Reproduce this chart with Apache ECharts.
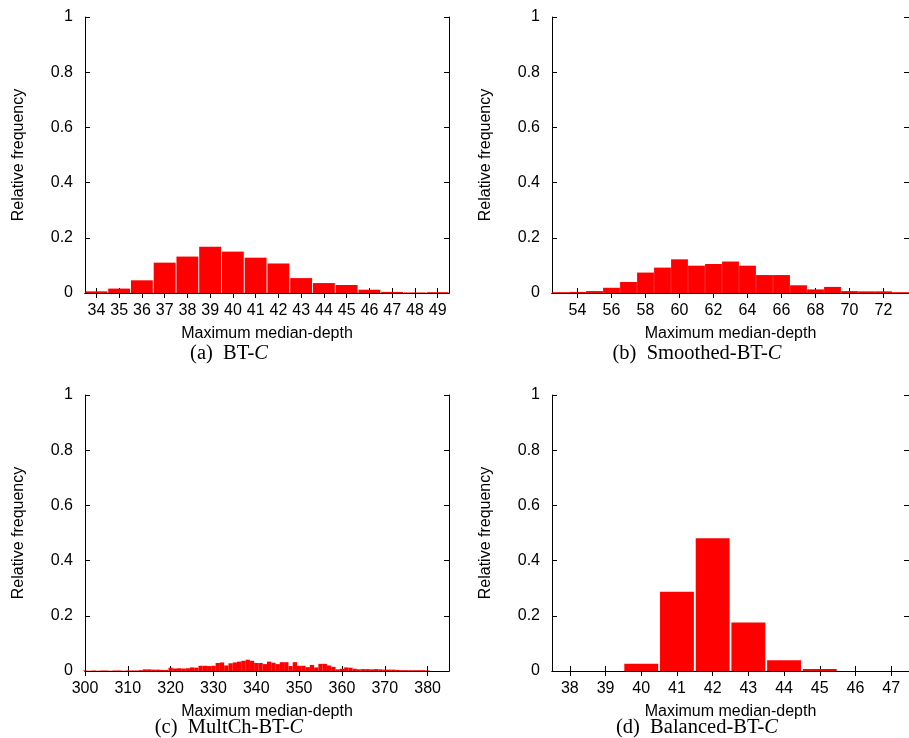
<!DOCTYPE html>
<html>
<head>
<meta charset="utf-8">
<script src="https://cdn.jsdelivr.net/npm/echarts@6/dist/echarts.min.js"></script>
<style>
  html, body { margin: 0; padding: 0; background: #fff; }
  #chart { width: 909px; height: 738px; }
</style>
</head>
<body>
<div id="chart"></div>
<script>
// (a) BT-C
const binsA = [34, 35, 36, 37, 38, 39, 40, 41, 42, 43, 44, 45, 46, 47, 48, 49];
const freqA = [0.006, 0.016, 0.046, 0.110, 0.132, 0.168, 0.150, 0.128, 0.107, 0.054, 0.036, 0.029, 0.012, 0.004, 0.002, 0.003];
const ticksA = [34, 35, 36, 37, 38, 39, 40, 41, 42, 43, 44, 45, 46, 47, 48, 49];

// (b) Smoothed-BT-C
const binsB = [53, 54, 55, 56, 57, 58, 59, 60, 61, 62, 63, 64, 65, 66, 67, 68, 69, 70, 71, 72, 73];
const freqB = [0.003, 0.004, 0.007, 0.019, 0.040, 0.074, 0.092, 0.122, 0.099, 0.105, 0.114, 0.099, 0.065, 0.065, 0.028, 0.013, 0.022, 0.007, 0.006, 0.006, 0.003];
const ticksB = [54, 56, 58, 60, 62, 64, 66, 68, 70, 72];

// (c) MultCh-BT-C
const binsC = [300, 301, 302, 303, 304, 305, 306, 307, 308, 309,
               310, 311, 312, 313, 314, 315, 316, 317, 318, 319,
               320, 321, 322, 323, 324, 325, 326, 327, 328, 329,
               330, 331, 332, 333, 334, 335, 336, 337, 338, 339,
               340, 341, 342, 343, 344, 345, 346, 347, 348, 349,
               350, 351, 352, 353, 354, 355, 356, 357, 358, 359,
               360, 361, 362, 363, 364, 365, 366, 367, 368, 369,
               370, 371, 372, 373, 374, 375, 376, 377, 378, 379, 380];
const freqC = [0.002, 0.001, 0.002, 0.001, 0.002, 0.002, 0.001, 0.002, 0.002, 0.001,
               0.002, 0.002, 0.002, 0.003, 0.006, 0.006, 0.005, 0.005, 0.004, 0.004,
               0.012, 0.009, 0.010, 0.009, 0.010, 0.013, 0.012, 0.019, 0.019, 0.018,
               0.019, 0.029, 0.031, 0.020, 0.028, 0.031, 0.034, 0.037, 0.041, 0.037,
               0.029, 0.029, 0.025, 0.034, 0.030, 0.025, 0.032, 0.032, 0.018, 0.032,
               0.019, 0.019, 0.014, 0.022, 0.013, 0.026, 0.026, 0.020, 0.015, 0.006,
               0.008, 0.013, 0.012, 0.008, 0.006, 0.007, 0.007, 0.006, 0.007, 0.006,
               0.005, 0.005, 0.005, 0.004, 0.003, 0.003, 0.003, 0.003, 0.003, 0.003, 0.002];
const ticksC = [300, 310, 320, 330, 340, 350, 360, 370, 380];

// (d) Balanced-BT-C
const binsD = [38, 39, 40, 41, 42, 43, 44, 45, 46, 47];
const freqD = [0, 0, 0.026, 0.287, 0.481, 0.176, 0.039, 0.007, 0, 0];
const ticksD = [38, 39, 40, 41, 42, 43, 44, 45, 46, 47];

const SANS = "'Liberation Sans', Arial, sans-serif";
const SERIF = "'Liberation Serif', 'Times New Roman', serif";
const W = 364, H = 276;

const panels = [
    { bins: binsA, freq: freqA, ticks: ticksA, min: 33.5, max: 49.5, fill: 0.96,
      left: 85, top: 17, capX: 229, capY: 354, tag: "(a)", name: "BT-" },
    { bins: binsB, freq: freqB, ticks: ticksB, min: 52.5, max: 73.5, fill: 0.97,
      left: 552, top: 17, capX: 697, capY: 354, tag: "(b)", name: "Smoothed-BT-" },
    { bins: binsC, freq: freqC, ticks: ticksC, min: 300, max: 385, fill: 1.0,
      left: 85, top: 395, capX: 229, capY: 728, tag: "(c)", name: "MultCh-BT-" },
    { bins: binsD, freq: freqD, ticks: ticksD, min: 37.5, max: 47.5, fill: 0.93,
      left: 552, top: 395, capX: 697, capY: 728, tag: "(d)", name: "Balanced-BT-" }
];

const black = { color: "#000", width: 1 };
const grid = [], xAxis = [], yAxis = [], series = [], graphic = [];

panels.forEach((p, i) => {
    grid.push({ left: p.left, top: p.top, width: W, height: H });

    const unit = W / (p.max - p.min);

    // bas (avec étiquettes) + haut (graduations miroir)
    xAxis.push({
        type: "value", gridIndex: i, min: p.min, max: p.max, position: "bottom",
        axisLine: { show: true, lineStyle: black },
        axisTick: { show: true, inside: true, length: 5, customValues: p.ticks, lineStyle: black },
        axisLabel: { customValues: p.ticks, margin: 10, color: "#000", fontSize: 16, fontFamily: SANS },
        splitLine: { show: false },
        name: "Maximum median-depth", nameLocation: "middle", nameGap: 33,
        nameTextStyle: { color: "#000", fontSize: 16, fontFamily: SANS }
    });
    xAxis.push({
        type: "value", gridIndex: i, min: p.min, max: p.max, position: "top",
        axisLine: { show: true, lineStyle: black },
        axisTick: { show: true, inside: true, length: 5, customValues: p.ticks, lineStyle: black },
        axisLabel: { show: false },
        splitLine: { show: false }
    });

    yAxis.push({
        type: "value", gridIndex: i, min: 0, max: 1, interval: 0.2, position: "left",
        axisLine: { show: true, lineStyle: black },
        axisTick: { show: true, inside: true, length: 5, lineStyle: black },
        axisLabel: { margin: 12, color: "#000", fontSize: 16, fontFamily: SANS },
        splitLine: { show: false },
        name: "Relative frequency", nameLocation: "middle", nameGap: 58,
        nameTextStyle: { color: "#000", fontSize: 16, fontFamily: SANS }
    });
    yAxis.push({
        type: "value", gridIndex: i, min: 0, max: 1, interval: 0.2, position: "right",
        axisLine: { show: true, lineStyle: black },
        axisTick: { show: true, inside: true, length: 5, lineStyle: black },
        axisLabel: { show: false },
        splitLine: { show: false }
    });

    series.push({
        type: "bar",
        xAxisIndex: 2 * i,
        yAxisIndex: 2 * i,
        barWidth: unit * p.fill,
        itemStyle: { color: "#ff0000" },
        silent: true,
        data: p.bins.map((b, k) => [b, p.freq[k]])
    });

    graphic.push({
        type: "text",
        x: p.capX, y: p.capY,
        style: {
            text: "{n|" + p.tag + "  " + p.name + "}{i|C}",
            align: "center",
            verticalAlign: "middle",
            fill: "#000",
            rich: {
                n: { fontFamily: SERIF, fontSize: 20.5, fill: "#000" },
                i: { fontFamily: SERIF, fontSize: 20.5, fontStyle: "italic", fill: "#000" }
            }
        }
    });
});

const chart = echarts.init(document.getElementById("chart"), null, { renderer: "canvas" });
chart.setOption({
    animation: false,
    backgroundColor: "#fff",
    grid, xAxis, yAxis, series, graphic
});
</script>
</body>
</html>
